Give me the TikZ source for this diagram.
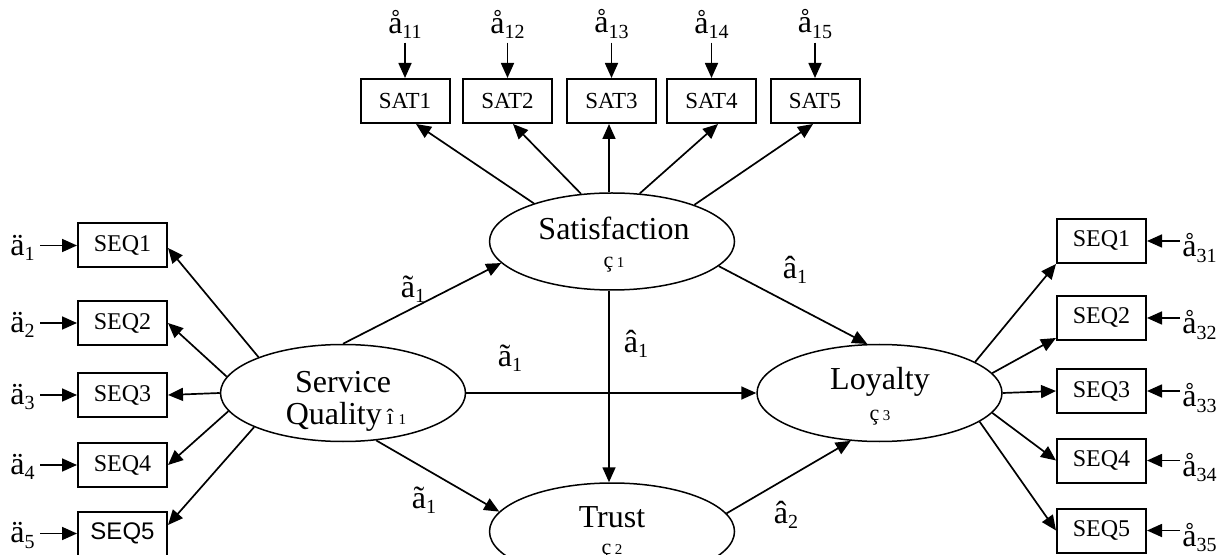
\documentclass[tikz,border=0pt]{standalone}
\usepackage{fontspec}
\setmainfont{Liberation Serif}
\newfontfamily\arialf{Liberation Sans}
\usetikzlibrary{arrows.meta,shapes.geometric}
\newcommand\lsub[1]{\raisebox{-0.35ex}{\fontsize{10}{10}\selectfont #1}}
\newcommand\etalab[2]{{\fontsize{11}{11}\selectfont #1}\,{\fontsize{7.5}{7.5}\selectfont #2}}
\begin{document}
\begin{tikzpicture}[x=0.5pt,y=-0.5pt,
  box/.style={draw,line width=1pt,minimum width=44.5pt,minimum height=22pt,inner sep=0pt,font=\fontsize{12}{12}\selectfont},
  satbox/.style={box,font=\fontsize{11.5}{11.5}\selectfont},
  lat/.style={draw,ellipse,line width=0.75pt,minimum width=122.5pt,minimum height=48.5pt,inner sep=0pt},
  big/.style={inner sep=0pt,font=\fontsize{16}{16}\selectfont},
  small/.style={inner sep=0pt},
  sym/.style={inner sep=0pt,font=\fontsize{16}{16}\selectfont},
  arr/.style={line width=0.85pt,-{Triangle[length=7.5pt,width=6.5pt]}},
]
\useasboundingbox (0,0) rectangle (1225,555);

% latent variables
\node[lat] (sat) at (612,241.5) {};
\node[lat] (sq) at (343,393) {};
\node[lat] (loy) at (879.5,393) {};
\node[lat] (trust) at (612,531.5) {};

\node[big] (satT) at (614,228) {Satisfaction};
\node[small] (satS) at (614,265) {\etalab{ç}{1}};
\node[big] (sqT) at (343,382) {Service};
\node[big] (sqQ) at (346,417) {Quality\,\etalab{î}{1}};
\node[big] (loyT) at (880,382) {Loyalty};
\node[small] (loyS) at (880,418) {\etalab{ç}{3}};
\node[big] (trT) at (612,517) {Trust};
\node[small] (trS) at (612,552) {\etalab{ç}{2}};

% SAT indicators
\node[satbox] (s1) at (405,101) {SAT1};
\node[satbox] (s2) at (507.5,101) {SAT2};
\node[satbox] (s3) at (611.5,101) {SAT3};
\node[satbox] (s4) at (711.5,101) {SAT4};
\node[satbox] (s5) at (815,101) {SAT5};

\node[sym] (t1) at (405,24) {å\lsub{11}};
\node[sym] (t2) at (507.5,24) {å\lsub{12}};
\node[sym] (t3) at (611.5,24) {å\lsub{13}};
\node[sym] (t4) at (711.5,24) {å\lsub{14}};
\node[sym] (t5) at (815,24) {å\lsub{15}};

\foreach \i in {1,...,5}{
  \draw[arr] ([yshift=-2pt]t\i.south) -- (t\i.south |- s\i.north);
}

\draw[arr] (sat.154) -- ([xshift=5.5pt]s1.south);
\draw[arr] (sat.123) -- ([xshift=2.75pt]s2.south);
\draw[arr] ([xshift=-1.5pt]sat.north) -- ([xshift=-1.25pt]s3.south);
\draw[arr] (sat.60) -- ([xshift=3.25pt]s4.south);
\draw[arr] (sat.24) -- ([xshift=-1pt]s5.south);

% left SEQ indicators
\node[box] (l1) at (122.5,245.5) {SEQ1};
\node[box] (l2) at (122.5,323) {SEQ2};
\node[box] (l3) at (122.5,395) {SEQ3};
\node[box] (l4) at (122.5,465) {SEQ4};
\node[box,font=\arialf\fontsize{12}{12}\selectfont] (l5) at (122.5,533.5) {SEQ5};

\node[sym,anchor=east] (d1) at (35,247.5) {ä\lsub{1}};
\node[sym,anchor=east] (d2) at (35,325) {ä\lsub{2}};
\node[sym,anchor=east] (d3) at (35,397) {ä\lsub{3}};
\node[sym,anchor=east] (d4) at (35,467) {ä\lsub{4}};
\node[sym,anchor=east] (d5) at (35,535.5) {ä\lsub{5}};

\foreach \i in {1,...,5}{
  \draw[arr] ([xshift=2.5pt]d\i.east |- l\i.west) -- (l\i.west);
}

\draw[arr] (sq.157.8) -- ([yshift=-1.25pt]l1.east);
\draw[arr] (sq.172.8) -- (l2.east);
\draw[arr] (sq.west) -- (l3.east);
\draw[arr] (sq.189) -- (l4.east);
\draw[arr] (sq.201.7) -- ([yshift=4.25pt]l5.east);

% right SEQ indicators
\node[box] (r1) at (1101.5,241) {SEQ1};
\node[box] (r2) at (1101.5,318) {SEQ2};
\node[box] (r3) at (1101.5,391) {SEQ3};
\node[box] (r4) at (1101.5,460.5) {SEQ4};
\node[box] (r5) at (1101.5,530.5) {SEQ5};

\node[sym,anchor=west] (e1) at (1182,248) {å\lsub{31}};
\node[sym,anchor=west] (e2) at (1182,325) {å\lsub{32}};
\node[sym,anchor=west] (e3) at (1182,398) {å\lsub{33}};
\node[sym,anchor=west] (e4) at (1182,467.5) {å\lsub{34}};
\node[sym,anchor=west] (e5) at (1182,537.5) {å\lsub{35}};

\foreach \i in {1,...,5}{
  \draw[arr] ([xshift=-1pt]e\i.west |- r\i.east) -- (r\i.east);
}

\draw[arr] (loy.18.9) -- (r1.south west);
\draw[arr] (loy.10.6) -- ([yshift=1.5pt]r2.south west);
\draw[arr] (loy.east) -- (r3.west);
\draw[arr] (loy.-10.6) -- (r4.west);
\draw[arr] (loy.-16.8) -- (r5.west);

% structural paths
\draw[arr] (sq.north) -- (sat.191.4);
\draw[arr] (sq.east) -- (loy.west);
\draw[arr] (sq.-55.7) -- (trust.170.2);
\draw[arr] ([xshift=-1.5pt]sat.south) -- ([xshift=-1.5pt]trust.north);
\draw[arr] (sat.-13.3) -- (loy.104.6);
\draw[arr] (trust.9.5) -- (loy.239.5);

\node[sym] (g1) at (413,289) {ã\lsub{1}};
\node[sym] (g2) at (510,358) {ã\lsub{1}};
\node[sym] (g3) at (424,500) {ã\lsub{1}};
\node[sym] (b1) at (636,344) {â\lsub{1}};
\node[sym] (b2) at (795,270) {â\lsub{1}};
\node[sym] (b3) at (786,515) {â\lsub{2}};
\end{tikzpicture}
\end{document}
